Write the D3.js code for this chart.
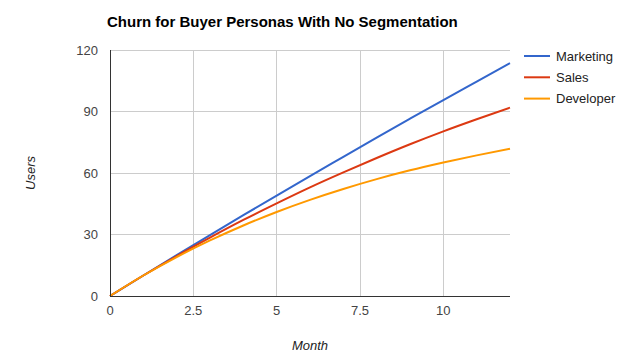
<!DOCTYPE html>
<html lang="en">
<head>
<meta charset="UTF-8">
<title>Churn for Buyer Personas With No Segmentation</title>
<script src="https://d3js.org/d3.v7.min.js"></script>
<style>
  body { margin: 0; background: #fff; }
  svg { display: block; font-family: "Liberation Sans", Arial, sans-serif; }
</style>
</head>
<body>
<svg id="chart" width="629" height="364"></svg>
<script>
const months = [0, 1, 2, 3, 4, 5, 6, 7, 8, 9, 10, 11, 12];
const marketing = [0, 10.0, 19.9, 29.7, 39.4, 49.0, 58.5, 67.9, 77.3, 86.5, 95.6, 104.6, 113.6];
const sales = [0, 10.0, 19.5, 28.5, 37.1, 45.2, 53.0, 60.3, 67.3, 74.0, 80.3, 86.2, 91.9];
const developer = [0, 10.0, 19.0, 27.1, 34.4, 41.0, 46.9, 52.2, 57.0, 61.3, 65.1, 68.6, 71.8];
const xTicks = [0, 2.5, 5, 7.5, 10];
const yTicks = [0, 30, 60, 90, 120];

const series = [
  { name: "Marketing", values: marketing, color: "#3366cc" },
  { name: "Sales", values: sales, color: "#dc3912" },
  { name: "Developer", values: developer, color: "#ff9900" }
];

const svg = d3.select("#chart");
const margin = { top: 50, right: 119, bottom: 68, left: 110 };
const width = 629, height = 364;

const x = d3.scaleLinear().domain([0, 12]).range([margin.left, width - margin.right]);
const y = d3.scaleLinear().domain([0, 120]).range([height - margin.bottom, margin.top]);

// gridlines
svg.append("g")
  .selectAll("line.v")
  .data(xTicks.filter(d => d > 0))
  .join("line")
  .attr("x1", d => x(d)).attr("x2", d => x(d))
  .attr("y1", y(120)).attr("y2", y(0))
  .attr("stroke", "#cccccc").attr("stroke-width", 1)
  .attr("shape-rendering", "crispEdges");

svg.append("g")
  .selectAll("line.h")
  .data(yTicks.filter(d => d > 0))
  .join("line")
  .attr("x1", x(0)).attr("x2", x(12))
  .attr("y1", d => y(d)).attr("y2", d => y(d))
  .attr("stroke", "#cccccc").attr("stroke-width", 1)
  .attr("shape-rendering", "crispEdges");

// tick labels
svg.append("g")
  .selectAll("text")
  .data(yTicks)
  .join("text")
  .attr("x", x(0) - 12)
  .attr("y", d => y(d))
  .attr("dy", "0.35em")
  .attr("text-anchor", "end")
  .attr("font-size", 13)
  .attr("fill", "#444")
  .text(d => d);

svg.append("g")
  .selectAll("text")
  .data(xTicks)
  .join("text")
  .attr("x", d => x(d))
  .attr("y", y(0) + 19)
  .attr("text-anchor", "middle")
  .attr("font-size", 13)
  .attr("fill", "#444")
  .text(d => d);

// lines
const line = d3.line()
  .x((d, i) => x(months[i]))
  .y(d => y(d))
  .curve(d3.curveMonotoneX);

svg.append("g")
  .selectAll("path")
  .data(series)
  .join("path")
  .attr("d", d => line(d.values))
  .attr("fill", "none")
  .attr("stroke", d => d.color)
  .attr("stroke-width", 2);

// baselines
svg.append("line")
  .attr("x1", x(0)).attr("x2", x(12))
  .attr("y1", y(0)).attr("y2", y(0))
  .attr("stroke", "#333").attr("stroke-width", 1)
  .attr("shape-rendering", "crispEdges");
svg.append("line")
  .attr("x1", x(0)).attr("x2", x(0))
  .attr("y1", y(120)).attr("y2", y(0))
  .attr("stroke", "#333").attr("stroke-width", 1)
  .attr("shape-rendering", "crispEdges");

// title
svg.append("text")
  .attr("x", 107)
  .attr("y", 27)
  .attr("font-size", 15)
  .attr("font-weight", "bold")
  .attr("fill", "#000")
  .text("Churn for Buyer Personas With No Segmentation");

// axis titles
svg.append("text")
  .attr("x", (x(0) + x(12)) / 2)
  .attr("y", 350)
  .attr("text-anchor", "middle")
  .attr("font-size", 13)
  .attr("font-style", "italic")
  .attr("fill", "#222")
  .text("Month");

svg.append("text")
  .attr("transform", `translate(35,${(y(0) + y(120)) / 2}) rotate(-90)`)
  .attr("text-anchor", "middle")
  .attr("font-size", 13)
  .attr("font-style", "italic")
  .attr("fill", "#222")
  .text("Users");

// legend
const legend = svg.append("g")
  .selectAll("g")
  .data(series)
  .join("g")
  .attr("transform", (d, i) => `translate(524,${56 + i * 21.3})`);

legend.append("line")
  .attr("x1", 0).attr("x2", 26)
  .attr("stroke", d => d.color)
  .attr("stroke-width", 2);

legend.append("text")
  .attr("x", 32)
  .attr("dy", "0.35em")
  .attr("font-size", 13)
  .attr("fill", "#222")
  .text(d => d.name);
</script>
</body>
</html>
